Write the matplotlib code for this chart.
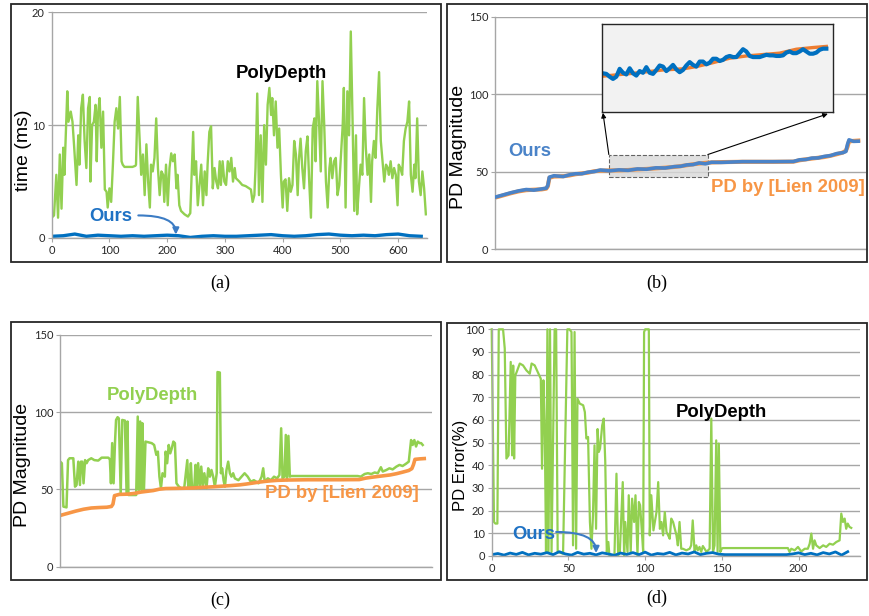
import numpy as np
import matplotlib
matplotlib.use("Agg")
from matplotlib import pyplot as plt
from matplotlib.patches import Rectangle

plt.rcParams['font.family'] = ['Lato', 'DejaVu Sans']
BOLD = 'Liberation Sans'

# (a) computation time, PolyDepth vs ours
time_x = [0, 4, 8, 11, 14, 17, 20, 22, 27, 29, 33, 36, 39, 43, 46, 48, 51, 54, 57, 60,
          63, 66, 67, 70, 73, 76, 78, 80, 83, 86, 89, 92, 95, 97, 100, 103, 106, 109, 112, 115,
          118, 121, 123, 126, 140, 145, 146, 149, 152, 155, 158, 161, 164, 167, 170, 172, 175, 178, 181, 184,
          187, 190, 193, 195, 198, 201, 204, 207, 210, 213, 216, 218, 221, 224, 230, 236, 240, 245, 247, 250,
          253, 256, 259, 262, 265, 268, 270, 273, 276, 279, 282, 285, 288, 291, 293, 296, 299, 302, 305, 308,
          311, 314, 317, 319, 325, 330, 336, 345, 348, 351, 353, 356, 359, 362, 365, 368, 371, 374, 377, 380,
          382, 385, 388, 391, 394, 397, 400, 402, 405, 408, 411, 414, 417, 420, 423, 426, 428, 431, 434, 437,
          440, 443, 446, 449, 452, 455, 457, 460, 463, 466, 469, 472, 475, 478, 481, 483, 486, 489, 492, 495,
          498, 501, 504, 506, 509, 512, 515, 518, 521, 524, 527, 529, 532, 535, 538, 541, 544, 547, 550, 553,
          555, 558, 561, 564, 567, 570, 573, 576, 579, 582, 584, 587, 590, 593, 596, 599, 601, 604, 607, 610,
          613, 616, 619, 622, 625, 628, 630, 633, 636, 639, 642, 645, 648]
polydepth_ms = [1.8, 2.0, 5.6, 1.8, 7.4, 2.6, 8.0, 5.6, 13.0, 10.3, 11.2, 10.3, 8.0, 4.7, 9.1, 6.5, 11.5, 12.7, 8.6, 6.2,
                11.5, 12.5, 5.0, 10.0, 10.3, 11.8, 6.8, 10.9, 12.4, 8.0, 11.2, 4.3, 4.1, 2.7, 4.4, 3.2, 6.5, 10.3, 11.5, 9.7,
                12.5, 6.8, 6.5, 6.3, 6.3, 6.4, 6.5, 12.5, 9.1, 5.6, 7.4, 3.8, 8.3, 5.0, 2.7, 6.5, 5.9, 7.1, 10.6, 6.2,
                3.8, 5.9, 5.6, 3.2, 6.5, 2.9, 6.2, 7.5, 6.8, 7.4, 4.4, 5.6, 2.9, 2.4, 2.1, 1.9, 2.2, 9.4, 5.6, 6.8,
                2.9, 4.7, 6.5, 2.9, 5.9, 3.8, 6.5, 9.4, 9.9, 4.4, 6.2, 5.0, 4.4, 6.8, 4.7, 6.8, 5.0, 4.7, 6.8, 5.9,
                7.1, 5.0, 6.2, 5.3, 5.0, 4.7, 4.6, 4.3, 3.2, 3.8, 6.2, 12.8, 3.8, 9.1, 3.2, 10.0, 6.5, 11.8, 13.3, 10.9,
                12.4, 9.1, 12.1, 8.0, 9.7, 5.6, 2.7, 5.0, 5.2, 2.4, 5.3, 4.1, 4.7, 8.6, 7.4, 3.8, 6.8, 8.8, 6.2, 4.4,
                7.7, 9.0, 5.0, 1.8, 9.7, 10.6, 6.8, 13.9, 10.3, 5.9, 13.9, 10.0, 5.0, 2.7, 6.2, 7.1, 5.3, 6.8, 7.1, 3.8,
                4.7, 7.4, 10.0, 13.3, 2.7, 13.0, 9.1, 18.3, 10.6, 2.4, 9.1, 2.1, 4.4, 6.5, 5.6, 12.4, 8.0, 5.6, 7.4, 3.2,
                6.8, 8.6, 7.1, 11.5, 14.7, 8.6, 6.8, 5.0, 6.5, 6.2, 5.6, 6.8, 5.3, 6.2, 5.6, 2.9, 6.5, 6.2, 5.6, 8.6,
                9.7, 10.3, 12.1, 5.6, 4.1, 6.5, 5.3, 10.6, 5.0, 3.8, 5.9, 4.4, 2.1]
ours_ms = [0.15, 0.2, 0.35, 0.15, 0.25, 0.2, 0.15, 0.2, 0.15, 0.2, 0.25, 0.2, 0.05, 0.15, 0.2, 0.15, 0.15,
           0.2, 0.25, 0.3, 0.2, 0.15, 0.2, 0.3, 0.35, 0.25, 0.2, 0.25, 0.2, 0.3, 0.35, 0.2, 0.15]

# (b)/(c) PD magnitude
lien_idx = [0, 5, 10, 15, 20, 25, 30, 33, 34, 35, 38, 44, 48, 52, 56, 60, 64, 68, 74, 80,
            86, 92, 98, 104, 110, 116, 120, 124, 128, 132, 136, 140, 146, 160, 180, 193, 197, 201, 205, 209,
            213, 217, 221, 225, 227, 228, 229, 232, 235]
lien_pd = [33.2, 34.6, 36.0, 37.2, 38.0, 38.3, 38.5, 39.0, 40.5, 46.0, 46.8, 47.0, 47.5, 48.3, 48.8, 49.3, 50.2, 50.6, 50.7, 50.8,
           51.0, 51.4, 51.7, 52.1, 52.5, 53.0, 53.5, 54.1, 54.7, 55.2, 55.6, 55.9, 56.1, 56.3, 56.3, 56.4, 57.3, 57.9, 58.4, 58.9,
           59.4, 60.2, 61.2, 62.3, 63.5, 66.0, 69.5, 69.8, 70.0]
ours_pd = [33.5, 34.9, 36.3, 37.5, 38.4, 38.0, 38.8, 39.3, 41.0, 46.4, 47.3, 46.8, 47.9, 48.6, 48.6, 49.6, 50.0, 51.0, 50.5, 51.1,
           50.8, 51.7, 51.5, 52.4, 52.3, 53.2, 53.4, 54.3, 54.5, 55.6, 55.0, 56.0, 55.9, 56.4, 56.4, 56.5, 57.6, 57.8, 58.7, 58.8,
           59.8, 60.3, 61.6, 62.2, 63.0, 67.5, 70.5, 69.5, 69.6]

# zoomed inset of (b)
inset_ours = [50.9, 50.8, 50.3, 49.9, 50.3, 51.7, 51.0, 50.7, 51.8, 50.9, 50.5, 51.3, 51.0, 52.0, 51.0, 50.8, 51.5,
              52.3, 52.1, 51.3, 51.8, 52.4, 51.6, 51.1, 51.5, 52.3, 52.9, 52.4, 52.1, 53.0, 53.0, 52.5, 52.8, 53.5,
              53.5, 53.1, 53.3, 53.8, 54.0, 53.8, 53.8, 54.5, 55.2, 54.8, 54.0, 53.8, 53.8, 53.8, 54.0, 54.2, 54.1,
              54.1, 54.0, 54.0, 54.1, 54.6, 54.8, 54.5, 54.5, 54.8, 55.2, 54.8, 54.4, 54.4, 54.6, 55.1, 55.3, 55.3]
inset_lien_idx = [0, 9, 18, 24, 28, 33, 38, 43, 49, 53, 58, 63, 67]
inset_lien = [50.4, 50.9, 51.5, 51.7, 52.1, 52.8, 53.6, 54.0, 54.3, 54.5, 55.2, 55.5, 55.7]

poly_pd_x = [0, 1, 2, 4, 5, 6, 8.4, 9.5, 10.5, 11.6, 12.7, 13.3, 14.2, 15, 16, 17, 18, 20, 22, 24.5,
             26.7, 31, 32, 32.7, 33.5, 34.4, 35.3, 36, 37, 37.8, 39, 40, 41.7, 42.8, 43.4, 44, 47, 49, 50, 50.8,
             51.6, 52.5, 53, 54, 55, 59, 60.6, 62, 63, 64, 65, 66, 67.5, 68, 69, 70, 71, 72, 73, 74,
             75, 76.6, 78, 80, 82, 82.6, 83.5, 84.3, 85, 86.5, 87.3, 88, 89, 90, 91, 92, 93, 94.4, 95.5, 96.6,
             97.6, 98.7, 99.8, 101, 101.5, 103, 103.7, 104.5, 105.4, 106.3, 107.3, 108.4, 109.5, 110.5, 111.6, 112.7, 115, 117, 119, 121,
             123, 125, 128, 130, 131, 132, 134, 136, 138, 140, 141.5, 142.6, 143.5, 144.7, 145.6, 146.4, 147.3, 148.2, 149, 192,
             194, 196.5, 198.6, 200.8, 203, 205, 207, 208.2, 210.5, 212.5, 214.6, 217, 219, 221, 223, 225, 226.5, 227.5, 228.6, 229.7,
             230.8, 232, 233, 234]
poly_pd = [68, 67, 38.9, 38.4, 69, 70.2, 70.2, 51.8, 52.9, 68, 52.9, 68, 68, 54, 69, 67, 69, 70.2, 69, 68.7,
           70.6, 70.6, 69.5, 54, 80, 54, 80, 95, 96.8, 96, 47.5, 95, 94.6, 47.5, 94, 46.4, 46.4, 46.4, 97.2, 49.7,
           94, 49.7, 92.9, 49.7, 81, 80, 78.8, 72.4, 74.5, 58.3, 50.8, 60.5, 58.3, 74.5, 67, 78.8, 73.4, 76.7, 81, 80,
           54, 51.8, 50.8, 50.8, 69, 51.8, 50.8, 67, 51.8, 50.8, 65.9, 50.8, 67, 50.8, 64.8, 51.8, 60.5, 50.8, 63.7, 58.3,
           62.6, 58.3, 51.8, 60.5, 126, 125.7, 60.5, 63.7, 56, 51.8, 62.6, 68, 60.5, 58.3, 60.5, 57.2, 56, 58.3, 60.5, 58.3,
           55, 56, 54, 58.3, 63.7, 55, 57.2, 56, 58.3, 57.2, 59.4, 89.6, 57.2, 58.3, 85.3, 56, 84.7, 58.3, 58.7, 58.7,
           58.3, 60, 60.5, 60, 61, 60.5, 64.4, 61.6, 62.6, 63.7, 63, 64.8, 65.9, 65.2, 66.5, 68, 82, 78.8, 82, 77.8,
           81, 80, 80, 78.8]

# (d) PD error
err_x = [0, 1.5, 2.4, 3.7, 4.6, 7.4, 8.5, 9.6, 11, 12.4, 13.3, 14, 14.6, 15.4, 16.3, 18.3, 20.4, 22.6, 24.8, 26,
         28, 30, 32, 32.8, 33.7, 34.6, 35.4, 36.3, 37, 38, 39, 41, 42, 43, 46.5, 49.3, 50.7, 52, 53, 54,
         55, 55.9, 57.4, 59.6, 60.7, 61.7, 62.8, 64, 65, 66, 67, 68, 69, 69.8, 70.6, 72, 73, 74, 75, 76,
         76.7, 80, 81.3, 82.4, 83.5, 84.6, 85.4, 86.3, 87, 88.5, 89.3, 90.6, 91.5, 92.8, 93.7, 95, 95.9, 96.7, 97.6, 98.7,
         99.3, 100, 102.4, 103, 104, 105.4, 106.3, 107.4, 108.5, 109.6, 110.6, 111.7, 112.8, 113.9, 115, 116, 117, 118.2, 119.3, 120.4,
         121.3, 122.4, 123.5, 124.6, 126.8, 129, 130, 131, 132.2, 133.3, 134.3, 135.4, 136.5, 137.6, 140, 142, 143.1, 144.2, 145.2, 146.3,
         147.2, 148, 149, 149.9, 150.6, 193, 194.1, 195.2, 197.4, 199.6, 201.7, 204, 206, 207.2, 208.3, 209.4, 210.4, 211.5, 213.7, 216,
         218, 220.2, 222.4, 224.6, 226.7, 227.8, 228.9, 230, 231, 232, 233.2, 234.3]
poly_err = [100, 15, 14.3, 14.3, 100, 100, 91.5, 43, 44.4, 85.6, 44.4, 84, 43, 79.7, 81.2, 84.9, 84.1, 81.9, 80.4, 84.9,
            84.1, 81.2, 78.2, 38.5, 77.5, 54.7, 1.8, 100, 1.8, 100, 1.8, 100, 100, 1.8, 1.0, 100, 100, 98.8, 4.7, 98.8,
            3.2, 69.4, 67.2, 66.5, 63.5, 51.8, 52.5, 15, 3.2, 18, 48.8, 12, 56, 45.9, 47.4, 57.6, 60.6, 41.5, 1.8, 6.2,
            0.3, 0.3, 36.3, 0.3, 1.8, 19.4, 32.6, 0.3, 15, 1.8, 26.8, 1.8, 25.3, 15, 26.8, 0.3, 23.8, 22.4, 13.5, 1.8,
            98.8, 100, 100, 9.1, 26.8, 11.3, 15, 19.4, 32.6, 12, 15, 9.1, 19.4, 10.6, 9.1, 7.6, 16.5, 15, 12, 9.1,
            4.7, 15, 3.2, 3.2, 2.5, 3.2, 4.7, 15.7, 1.8, 4.7, 2.5, 4, 1.8, 4.4, 1.8, 3.2, 60.6, 1.8, 4.7, 51,
            1.8, 49.6, 1.8, 3.2, 3.5, 3.5, 1.8, 3.2, 2.5, 4, 2, 3.2, 3.2, 5.4, 9.9, 3.2, 6.9, 4.7, 3.5, 4.7,
            4, 5.4, 5, 6.2, 6.9, 18.7, 15, 16.5, 12, 14.3, 12.8, 12.4]
ours_err = [0.6, 1.1, 0.4, 1.3, 0.7, 1.6, 0.5, 1.2, 0.8, 1.5, 0.6, 1.9, 0.9, 0.4, 1.6, 0.8, 1.2, 0.5, 1.4, 0.9,
            0.3, 1.3, 0.7, 1.5, 0.6, 1.7, 0.4, 1.1, 0.8, 1.6, 0.5, 1.3, 0.9, 1.8, 0.6, 1.2, 1.5, 0.8, 0.6, 0.6,
            0.6, 0.6, 0.6, 0.6, 0.6, 0.6, 0.6, 0.6, 0.6, 0.9, 1.4, 0.6, 1.2, 0.5, 1.5, 0.9, 1.8, 0.4, 1.9]

GREEN = '#92D050'
BLUE = '#0070C0'
BLUE_B = '#4A83C8'
ORANGE = '#F79646'
GRID = '#A6A6A6'

W, H = 869, 616
fig = plt.figure(figsize=(W / 100, H / 100), dpi=100)


def box(l, t, r, b):
    return [l / W, 1 - b / H, (r - l) / W, (b - t) / H]


def frame(l, t, r, b):
    fig.add_artist(Rectangle((l / W, 1 - b / H), (r - l) / W, (b - t) / H,
                             transform=fig.transFigure, fill=False, lw=1.3, ec='#262626'))


def style(ax, yticks, xticks=None):
    ax.set_yticks(yticks)
    ax.yaxis.grid(True, color=GRID, lw=1.0)
    ax.set_axisbelow(True)
    for s in ['top', 'right']:
        ax.spines[s].set_visible(False)
    for s in ['left', 'bottom']:
        ax.spines[s].set_color(GRID)
        ax.spines[s].set_linewidth(1.0)
    ax.tick_params(length=3, color=GRID, labelsize=8, labelcolor='#262626', pad=2)
    if xticks is None:
        ax.set_xticks([])
    else:
        ax.set_xticks(xticks)


def ylabel(x, y, s, size):
    fig.text(x / W, 1 - y / H, s, rotation=90, ha='center', va='center',
             fontsize=size, family='Liberation Sans')


def caption(x, y, s):
    fig.text(x / W, 1 - y / H, s, ha='center', va='center', fontsize=13, family='Liberation Serif')


def note(ax, x, y, s, color='black'):
    ax.text(x, y, s, fontsize=13.3, weight='bold', family=BOLD, color=color, ha='center', va='center')


for f in [(11, 4, 441, 262), (447, 4, 867, 262), (11, 322, 441, 580), (447, 323, 867, 580)]:
    frame(*f)

# ---- (a)
ax = fig.add_axes(box(51.7, 12.3, 427, 238))
ax.plot(time_x, polydepth_ms, color=GREEN, lw=1.7)
ax.plot(np.arange(0, 20 * len(ours_ms), 20), ours_ms, color=BLUE, lw=2.4)
ax.set_xlim(0, 650)
ax.set_ylim(0, 20)
style(ax, [0, 10, 20], range(0, 700, 100))
note(ax, 397, 14.6, 'PolyDepth')
note(ax, 103, 1.9, 'Ours', '#1F72C4')
ax.annotate('', xy=(215, 0.3), xytext=(150, 2.0),
            arrowprops=dict(arrowstyle='-|>', color='#3C7CC4', lw=1.5, mutation_scale=9,
                            connectionstyle='angle3,angleA=0,angleB=-90', shrinkA=0, shrinkB=0))
ylabel(23, 150, 'time (ms)', 14)
caption(220, 283, '(a)')

# ---- (b)
ax = fig.add_axes(box(495.3, 16.7, 866, 249))
ax.add_patch(Rectangle((73.5, 46.5), 64.1, 14.5, fc='#D9D9D9', ec='#404040', ls='--', lw=0.8, alpha=0.8, zorder=1.5))
ax.plot(lien_idx, lien_pd, color=ORANGE, lw=3.0, zorder=2)
ax.plot(lien_idx, ours_pd, color=BLUE_B, lw=2.6, zorder=3)
ax.set_xlim(0, 240)
ax.set_ylim(0, 150)
style(ax, [0, 50, 100, 150])
note(ax, 22.4, 62.7, 'Ours', BLUE_B)
note(ax, 189.5, 39.4, 'PD by [Lien 2009]', ORANGE)
for start, end in [((73.5, 61), (69.7, 87.9)), ((137.6, 61), (215.3, 87.3))]:
    ax.annotate('', xy=end, xytext=start,
                arrowprops=dict(arrowstyle='-|>', color='black', lw=0.8, mutation_scale=7, shrinkA=0, shrinkB=0))
ylabel(458, 147, 'PD Magnitude', 14)
caption(657, 283, '(b)')

ins = fig.add_axes(box(602, 24, 833, 112))
ins.set_facecolor('#F2F2F2')
ins.plot(inset_lien_idx, inset_lien, color='#ED7D31', lw=2.4)
ins.plot(np.arange(len(inset_ours)), inset_ours, color=BLUE, lw=3.0)
ins.set_xlim(-0.3, 69)
ins.set_ylim(44, 59.7)
ins.set_xticks([])
ins.set_yticks([])
for s in ins.spines.values():
    s.set_color('#262626')
    s.set_linewidth(1.0)

# ---- (c)
ax = fig.add_axes(box(60.3, 335, 432, 566.7))
ax.plot(poly_pd_x, poly_pd, color=GREEN, lw=1.8)
ax.plot(lien_idx, lien_pd, color=ORANGE, lw=2.6)
ax.set_xlim(0, 240)
ax.set_ylim(0, 150)
style(ax, [0, 50, 100, 150])
note(ax, 59.2, 110.6, 'PolyDepth', GREEN)
note(ax, 182, 47.1, 'PD by [Lien 2009]', ORANGE)
ylabel(23, 465, 'PD Magnitude', 14)
caption(220, 600, '(c)')

# ---- (d)
ax = fig.add_axes(box(491.7, 329.3, 860, 556))
ax.plot(err_x, poly_err, color=GREEN, lw=1.6, clip_on=False)
ax.plot(np.arange(0, 4 * len(ours_err), 4), ours_err, color=BLUE, lw=2.0)
ax.set_xlim(0, 240)
ax.set_ylim(0, 100)
style(ax, range(0, 110, 10), range(0, 250, 50))
note(ax, 149.5, 63.5, 'PolyDepth')
note(ax, 27.6, 9.3, 'Ours', '#1F72C4')
ax.annotate('', xy=(68, 1.3), xytext=(42, 10.6),
            arrowprops=dict(arrowstyle='-|>', color='#3C7CC4', lw=1.5, mutation_scale=9,
                            connectionstyle='angle3,angleA=0,angleB=-90', shrinkA=0, shrinkB=0))
ylabel(460, 465, 'PD Error(%)', 12)
caption(657, 598, '(d)')

fig.savefig('out.png', dpi=100)
